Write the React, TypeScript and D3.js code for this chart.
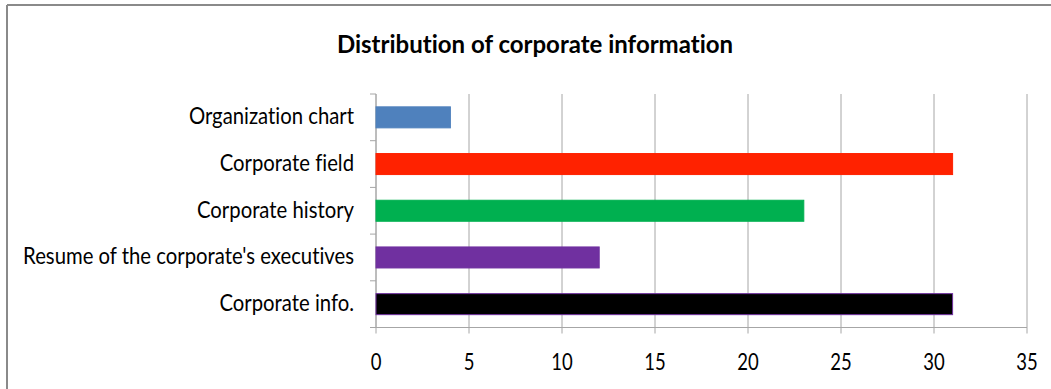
import React from "react";
import * as d3 from "d3";

const categories = [
  "Organization chart",
  "Corporate field",
  "Corporate history",
  "Resume of the corporate's executives",
  "Corporate info.",
];
const values = [4, 31, 23, 12, 31];
const fills = ["#4F81BD", "#FF2200", "#00B050", "#7030A0", "#000000"];
const strokes = ["#4F81BD", "#FF2200", "#00B050", "#7030A0", "#7030A0"];
const xTicks = [0, 5, 10, 15, 20, 25, 30, 35];
const title = "Distribution of corporate information";

const W = 1051;
const H = 389;
const left = 376;
const right = 1027;
const top = 94;
const bottom = 327.5;
const FONT = "Lato, 'Open Sans', sans-serif";

export default function App() {
  const x = d3.scaleLinear().domain([0, 35]).range([left, right]);
  const y = d3
    .scaleBand<string>()
    .domain(categories)
    .range([top, bottom])
    .paddingInner(0.55)
    .paddingOuter(0.275);
  const step = (bottom - top) / categories.length;
  const boundaries = d3.range(categories.length + 1).map((i) => top + i * step);
  const noLig = { fontVariantLigatures: "none" as const };

  return (
    <svg
      width={W}
      height={H}
      style={{ position: "absolute", left: 0, top: 0, background: "#fff" }}
    >
      <rect x={0} y={0} width={W} height={H} fill="#fff" />
      <line x1={7} y1={5} x2={W} y2={5} stroke="#8a8a8a" strokeWidth={2} />
      <line x1={7} y1={5} x2={7} y2={H} stroke="#8a8a8a" strokeWidth={2} />

      <text
        x={535}
        y={53}
        textAnchor="middle"
        fontFamily={FONT}
        fontWeight="bold"
        fontSize={24}
        fill="#000"
        style={noLig}
      >
        {title}
      </text>

      {xTicks.map((t) => (
        <line
          key={"g" + t}
          x1={x(t)}
          x2={x(t)}
          y1={top}
          y2={bottom + (t === 0 ? 0 : 6)}
          stroke="#a6a6a6"
          strokeWidth={1}
        />
      ))}
      <line x1={left} x2={right} y1={bottom} y2={bottom} stroke="#a6a6a6" />
      <line x1={left} x2={left} y1={bottom} y2={bottom + 6} stroke="#a6a6a6" />
      <line x1={left} x2={left} y1={top} y2={bottom} stroke="#a6a6a6" />
      {boundaries.map((b, i) => (
        <line
          key={"yt" + i}
          x1={left - 6}
          x2={left}
          y1={b}
          y2={b}
          stroke="#a6a6a6"
        />
      ))}

      {categories.map((c, i) => (
        <rect
          key={c}
          x={x(0)}
          y={y(c)!}
          width={x(values[i]) - x(0)}
          height={y.bandwidth()}
          fill={fills[i]}
          stroke={strokes[i]}
          strokeWidth={1}
        />
      ))}

      {categories.map((c) => (
        <text
          key={"l" + c}
          transform={`translate(354,${y(c)! + y.bandwidth() / 2 + 7}) scale(1,1.1)`}
          textAnchor="end"
          fontFamily={FONT}
          fontSize={20.3}
          fill="#000"
          style={noLig}
        >
          {c}
        </text>
      ))}

      {xTicks.map((t) => (
        <text
          key={"tl" + t}
          transform={`translate(${x(t)},369.5) scale(1,1.2)`}
          textAnchor="middle"
          fontFamily={FONT}
          fontSize={18.5}
          fill="#000"
        >
          {t}
        </text>
      ))}
    </svg>
  );
}
